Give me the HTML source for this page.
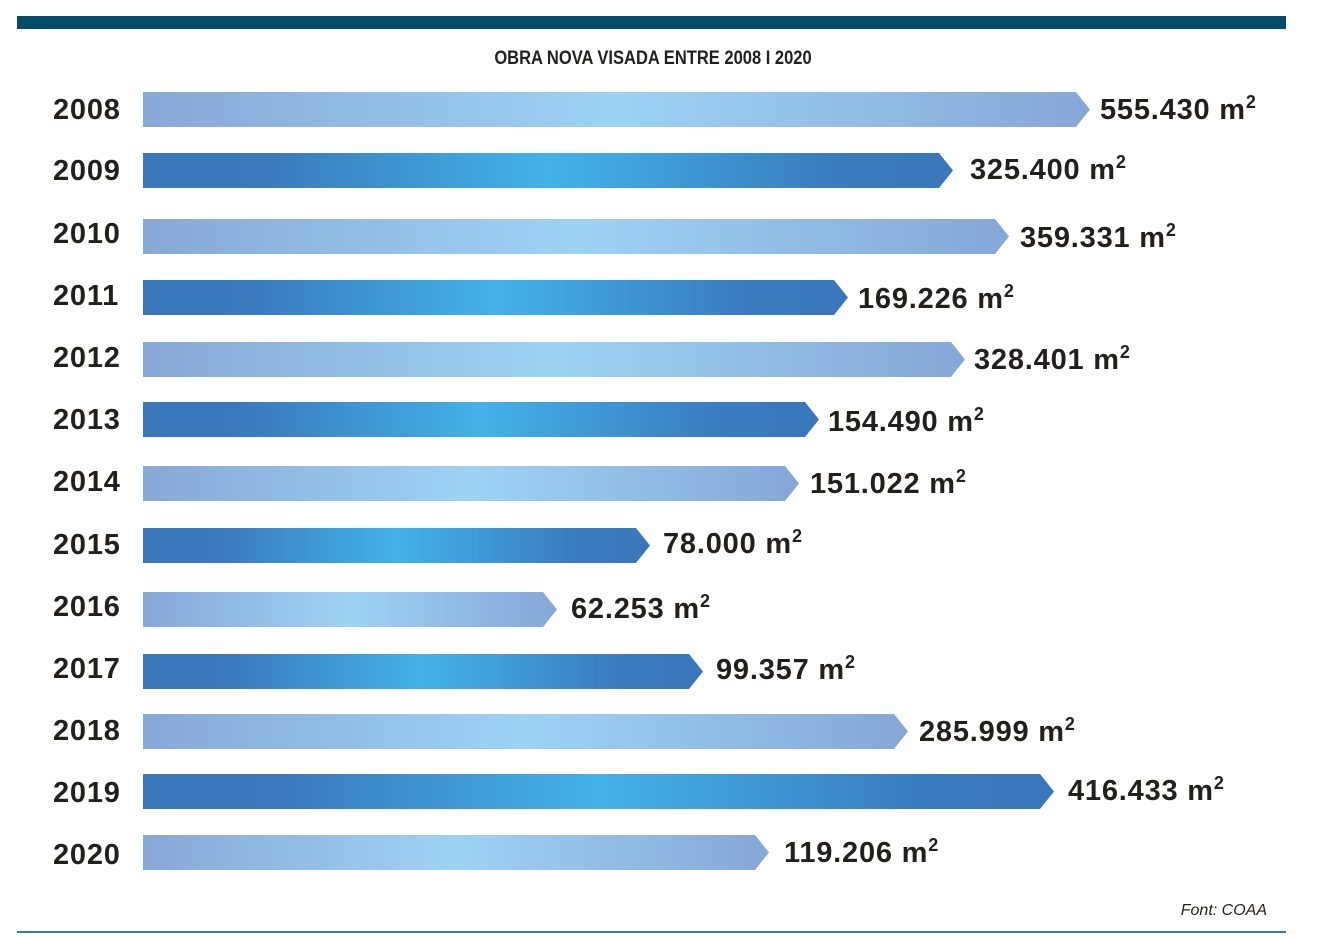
<!DOCTYPE html>
<html><head><meta charset="utf-8"><style>html,body{margin:0;padding:0;background:#fff}svg{display:block}</style></head>
<body>
<svg width="1323" height="939" viewBox="0 0 1323 939" xmlns="http://www.w3.org/2000/svg">
<defs>
<linearGradient id="l" x1="0" x2="1" y1="0" y2="0">
<stop offset="0" stop-color="#88a8d8"/><stop offset="0.5" stop-color="#9dd3f3"/><stop offset="1" stop-color="#86a7d8"/></linearGradient>
<linearGradient id="d" x1="0" x2="1" y1="0" y2="0">
<stop offset="0" stop-color="#3a77bb"/><stop offset="0.15" stop-color="#3a79bd"/><stop offset="0.5" stop-color="#43b2e8"/><stop offset="0.85" stop-color="#3a7cc0"/><stop offset="1" stop-color="#3a76ba"/></linearGradient>
</defs>
<rect x="17" y="16" width="1269" height="13" fill="#034b66"/>
<rect x="17" y="931" width="1269" height="2" fill="#3a7f95"/>
<text x="653" y="64" text-anchor="middle" font-family="Liberation Sans, sans-serif" font-weight="bold" font-size="19" fill="#231f1a" transform="translate(653 0) scale(0.87 1) translate(-653 0)">OBRA NOVA VISADA ENTRE 2008 I 2020</text>
<g font-family="Liberation Sans, sans-serif" font-weight="bold" font-size="29" fill="#231f1a" letter-spacing="0.8">
<polygon points="143,92 1076,92 1090,109.5 1076,127 143,127" fill="url(#l)"/>
<text x="53" y="119">2008</text><text x="1100" y="119">555.430 m<tspan font-size="18" dy="-11">2</tspan></text>
<polygon points="143,153 939,153 953,170.5 939,188 143,188" fill="url(#d)"/>
<text x="53" y="180">2009</text><text x="970" y="179">325.400 m<tspan font-size="18" dy="-11">2</tspan></text>
<polygon points="143,219 995,219 1009,236.5 995,254 143,254" fill="url(#l)"/>
<text x="53" y="243">2010</text><text x="1020" y="247">359.331 m<tspan font-size="18" dy="-11">2</tspan></text>
<polygon points="143,280 834,280 848,297.5 834,315 143,315" fill="url(#d)"/>
<text x="53" y="305">2011</text><text x="858" y="308">169.226 m<tspan font-size="18" dy="-11">2</tspan></text>
<polygon points="143,342 951,342 965,359.5 951,377 143,377" fill="url(#l)"/>
<text x="53" y="367">2012</text><text x="974" y="369">328.401 m<tspan font-size="18" dy="-11">2</tspan></text>
<polygon points="143,402 805,402 819,419.5 805,437 143,437" fill="url(#d)"/>
<text x="53" y="429">2013</text><text x="828" y="431">154.490 m<tspan font-size="18" dy="-11">2</tspan></text>
<polygon points="143,466 785,466 799,483.5 785,501 143,501" fill="url(#l)"/>
<text x="53" y="491">2014</text><text x="810" y="493">151.022 m<tspan font-size="18" dy="-11">2</tspan></text>
<polygon points="143,528 636,528 650,545.5 636,563 143,563" fill="url(#d)"/>
<text x="53" y="554">2015</text><text x="663" y="553">78.000 m<tspan font-size="18" dy="-11">2</tspan></text>
<polygon points="143,592 543,592 557,609.5 543,627 143,627" fill="url(#l)"/>
<text x="53" y="616">2016</text><text x="571" y="618">62.253 m<tspan font-size="18" dy="-11">2</tspan></text>
<polygon points="143,654 689,654 703,671.5 689,689 143,689" fill="url(#d)"/>
<text x="53" y="678">2017</text><text x="716" y="679">99.357 m<tspan font-size="18" dy="-11">2</tspan></text>
<polygon points="143,714 894,714 908,731.5 894,749 143,749" fill="url(#l)"/>
<text x="53" y="740">2018</text><text x="919" y="741">285.999 m<tspan font-size="18" dy="-11">2</tspan></text>
<polygon points="143,774 1040,774 1054,791.5 1040,809 143,809" fill="url(#d)"/>
<text x="53" y="802">2019</text><text x="1068" y="800">416.433 m<tspan font-size="18" dy="-11">2</tspan></text>
<polygon points="143,835 755,835 769,852.5 755,870 143,870" fill="url(#l)"/>
<text x="53" y="864">2020</text><text x="784" y="862">119.206 m<tspan font-size="18" dy="-11">2</tspan></text>
</g>
<text x="1267" y="915" text-anchor="end" font-family="Liberation Sans, sans-serif" font-style="italic" font-size="16" fill="#231f1a">Font: COAA</text>
</svg>
</body></html>
